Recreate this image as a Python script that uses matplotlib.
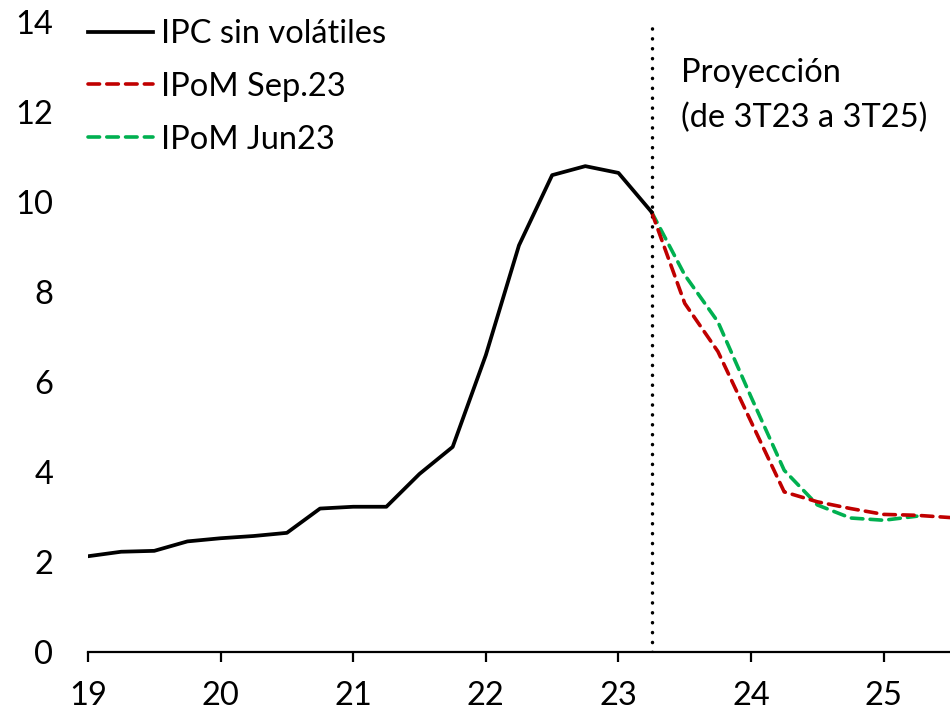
import numpy as np
import matplotlib.pyplot as plt

plt.rcParams['font.family'] = ['Lato', 'DejaVu Sans']

# trimestres (año 19 = 2019)
x_hist = [19.0, 19.25, 19.5, 19.75, 20.0, 20.25, 20.5, 20.75, 21.0, 21.25,
          21.5, 21.75, 22.0, 22.25, 22.5, 22.75, 23.0, 23.25]
ipc_sv = [2.13, 2.23, 2.25, 2.46, 2.53, 2.58, 2.65, 3.19, 3.23, 3.23,
          3.96, 4.56, 6.6, 9.04, 10.6, 10.8, 10.65, 9.78]

x_sep = [23.25, 23.5, 23.75, 24.0, 24.25, 24.5, 24.75, 25.0, 25.25, 25.5]
ipom_sep = [9.78, 7.75, 6.68, 5.12, 3.56, 3.34, 3.19, 3.06, 3.04, 2.99]

x_jun = [23.25, 23.5, 23.75, 24.0, 24.25, 24.5, 24.75, 25.0, 25.25]
ipom_jun = [9.78, 8.38, 7.34, 5.67, 4.04, 3.27, 2.98, 2.93, 3.02]

x_proy = 23.25
fs = 23.5

fig = plt.figure(figsize=(9.5, 7.15), dpi=100)
ax = fig.add_axes([0.0926, 0.088, 0.9074, 0.881])

ax.plot(x_hist, ipc_sv, color='black', lw=2.7, label='IPC sin volátiles', zorder=4)
ax.plot(x_sep, ipom_sep, color='#C00000', lw=2.6, dashes=(3.2, 2.0),
        dash_capstyle='round', label='IPoM Sep.23', zorder=3)
ax.plot(x_jun, ipom_jun, color='#00B050', lw=2.6, dashes=(3.2, 2.0),
        dash_capstyle='round', label='IPoM Jun23', zorder=2)
ax.plot([x_proy, x_proy], [0, 13.9], color='black', lw=2.5, dashes=(0.05, 2.8),
        dash_capstyle='round', zorder=1)

ax.text(23.47, 12.87, 'Proyección', fontsize=fs, va='center', ha='left')
ax.text(23.47, 11.87, '(de 3T23 a 3T25)', fontsize=fs, va='center', ha='left')

ax.set_xlim(19, 25.5)
ax.set_ylim(0, 14)
ax.set_xticks(range(19, 26))
ax.set_yticks(range(0, 15, 2))

for s in ['top', 'right', 'left']:
    ax.spines[s].set_visible(False)
ax.spines['bottom'].set_linewidth(1.6)
ax.tick_params(axis='x', direction='out', length=7, width=1.6, pad=14, labelsize=fs)
ax.tick_params(axis='y', length=0, pad=25, labelsize=fs)

ax.legend(loc='upper left', bbox_to_anchor=(0, 1.005), frameon=False, fontsize=fs,
          handlelength=2.0, handletextpad=0.25, labelspacing=0.7, borderpad=0,
          borderaxespad=0)

fig.savefig('out.png', dpi=100)
